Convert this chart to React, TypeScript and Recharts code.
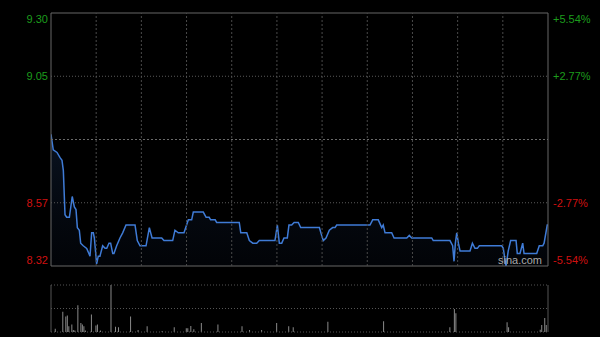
import React from "react";
import { ComposedChart, Area, Bar, XAxis, YAxis, ReferenceLine, ReferenceArea } from "recharts";

const prevClose = 8.81;
const maxPct = 5.54;
const pctTicks = [-5.54, -2.77, 2.77, 5.54];
const priceLabels = ["8.32", "8.57", "9.05", "9.30"];
const pctLabels = ["-5.54%", "-2.77%", "+2.77%", "+5.54%"];
const timeGrid = [30, 60, 90, 120, 150, 180, 210, 240, 270, 300];

// minutes since open (lunch break removed) and last price
const minutes = [
  0, 1.5, 4, 6, 7.3, 8.2, 9.3, 10.4, 12.2, 14.1, 15.5, 16.6, 17.5, 18.8, 19.7, 21.4, 23.7, 25.9, 27, 28.1,
  28.8, 30.3, 31.4, 32.5, 34.3, 35.9, 37, 38.5, 39.6, 41, 41.8, 43.6, 45.8, 47.6, 49.8, 55.8, 57.3, 59.1, 63.1, 65.3,
  67.1, 73.5, 75, 80.8, 82.3, 84.5, 88.3, 91.2, 93.4, 94.5, 101.1, 103, 105, 106, 109, 110, 125, 126, 130, 131.7,
  134, 136.6, 138.3, 148.7, 150.3, 151.6, 153.2, 154.7, 156.9, 158, 159.8, 161.4, 164.2, 165.8, 178.2, 179.7, 180.8, 182.6, 184.8, 187,
  188.6, 189.7, 211.8, 213.6, 217.3, 219.6, 220.6, 221.8, 226.2, 227.8, 236.2, 237.9, 239.5, 240.6, 252.8, 253.8, 264.9, 266.7, 267.6, 268.5,
  269.4, 270.5, 271.6, 278.2, 279.8, 281.5, 283.1, 284.4, 299.3, 300.3, 302.1, 303.6, 305.2, 308.8, 309.6, 311.4, 313.2, 314.1, 322.5, 324.2,
  326.5, 327.4, 329.5, 330,
];
const prices = [
  8.83, 8.77, 8.76, 8.74, 8.73, 8.69, 8.52, 8.51, 8.51, 8.59, 8.55, 8.54, 8.47, 8.46, 8.41, 8.4, 8.39, 8.36, 8.45, 8.45,
  8.43, 8.33, 8.36, 8.36, 8.4, 8.39, 8.39, 8.41, 8.41, 8.37, 8.37, 8.4, 8.43, 8.45, 8.48, 8.48, 8.42, 8.4, 8.4, 8.47,
  8.43, 8.43, 8.42, 8.42, 8.46, 8.45, 8.45, 8.5, 8.5, 8.53, 8.53, 8.51, 8.51, 8.5, 8.5, 8.49, 8.49, 8.45, 8.45, 8.42,
  8.41, 8.41, 8.42, 8.42, 8.48, 8.41, 8.41, 8.43, 8.43, 8.48, 8.48, 8.49, 8.49, 8.47, 8.47, 8.44, 8.42, 8.43, 8.46, 8.47,
  8.47, 8.48, 8.48, 8.5, 8.5, 8.47, 8.48, 8.45, 8.45, 8.43, 8.43, 8.44, 8.43, 8.43, 8.43, 8.42, 8.42, 8.4, 8.34, 8.41,
  8.45, 8.41, 8.38, 8.38, 8.41, 8.39, 8.39, 8.4, 8.4, 8.39, 8.32, 8.38, 8.42, 8.42, 8.37, 8.37, 8.41, 8.37, 8.37, 8.4,
  8.4, 8.41, 8.48, 8.48,
];

// volume, scaled so the panel top is 100
const volMinutes = [
  3, 8, 10, 11, 12, 14, 15, 16, 18, 20, 21, 22, 23, 27, 30, 31, 33, 40, 43, 45,
  53, 58, 64, 74, 82, 90, 91, 93, 95, 100, 111, 127, 132, 140, 150, 158, 161, 184, 221, 265,
  268, 269, 303, 304, 325, 326, 328, 329,
];
const volumes = [
  7, 43, 33, 35, 12, 16, 4, 3, 57, 19, 16, 12, 3, 37, 14, 16, 3, 100, 11, 10,
  33, 4, 12, 2, 10, 8, 8, 13, 6, 19, 16, 12, 4, 4, 19, 12, 10, 22, 23, 10,
  49, 40, 21, 10, 5, 15, 30, 15,
];

const lo = prevClose * (1 - maxPct / 100);
const hi = prevClose * (1 + maxPct / 100);
const tickVals = pctTicks.map((p) => prevClose * (1 + p / 100));

const priceRows = minutes.map((m, i) => ({ m, p: prices[i] }));
const volRows = volMinutes.map((m, i) => ({ m, v: volumes[i] }));

const font = "Arial, 'Liberation Sans', sans-serif";

function makeTick(side: "l" | "r") {
  return (props: any) => {
    const { x, y, payload } = props;
    const i = tickVals.findIndex((t) => Math.abs(t - payload.value) < 1e-6);
    if (i < 0) return <g />;
    const dy = i === 0 ? -6 : i === tickVals.length - 1 ? 6 : 0;
    const color = pctTicks[i] > 0 ? "#1c9c1c" : "#d01010";
    return (
      <text x={x} y={y + dy} dy="0.35em" textAnchor={side === "l" ? "end" : "start"} fill={color}
        fontSize={11} fontFamily={font}>
        {side === "l" ? priceLabels[i] : pctLabels[i]}
      </text>
    );
  };
}

export default function App() {
  return (
    <div style={{ position: "absolute", left: 0, top: 0, width: 600, height: 337, background: "#000", overflow: "hidden" }}>
      <ComposedChart width={600} height={270} data={priceRows} margin={{ top: 13, right: 0, left: 0, bottom: 4 }}>
        <defs>
          <linearGradient id="pfill" x1="0" y1="0" x2="0" y2="1">
            <stop offset="0%" stopColor="#1e3a66" stopOpacity={0.55} />
            <stop offset="100%" stopColor="#0c1830" stopOpacity={0.25} />
          </linearGradient>
        </defs>
        <XAxis dataKey="m" type="number" domain={[0, 330]} hide allowDataOverflow />
        <YAxis yAxisId="l" domain={[lo, hi]} ticks={tickVals} interval={0} width={51} allowDataOverflow
          axisLine={false} tickLine={false} tickSize={3} tickMargin={0} tick={makeTick("l")} />
        <YAxis yAxisId="r" orientation="right" domain={[lo, hi]} ticks={tickVals} interval={0} width={52} allowDataOverflow
          axisLine={false} tickLine={false} tickSize={5} tickMargin={0} tick={makeTick("r")} />
        {timeGrid.map((t) => (
          <ReferenceLine key={t} yAxisId="l" x={t} stroke="#4a4a4a" strokeDasharray="2 2" />
        ))}
        {[-2.77, 2.77].map((p) => (
          <ReferenceLine key={p} yAxisId="l" y={prevClose * (1 + p / 100)} stroke="#5a5a5a" strokeDasharray="1 2" />
        ))}
        <ReferenceLine yAxisId="l" y={prevClose} stroke="#6a6a6a" strokeDasharray="2 2" />
        <Area yAxisId="l" dataKey="p" type="linear" stroke="#3f7bd6" strokeWidth={1.5} fill="url(#pfill)"
          dot={false} activeDot={false} isAnimationActive={false} />
        <ReferenceArea yAxisId="l" x1={0} x2={330} y1={lo} y2={hi} fill="none" stroke="#666" strokeWidth={1} ifOverflow="visible" />
      </ComposedChart>
      <div style={{ position: "absolute", left: 498, top: 254, color: "#aaa", fontSize: 11, fontFamily: font }}>sina.com</div>
      <ComposedChart width={600} height={67} data={volRows} margin={{ top: 15, right: 52, left: 51, bottom: 5 }}>
        <XAxis dataKey="m" type="number" domain={[0, 330]} hide allowDataOverflow />
        <YAxis domain={[0, 100]} hide allowDataOverflow />
        {[100, 50, 0].map((v) => (
          <ReferenceLine key={v} y={v} stroke="#555" strokeDasharray="1 2" />
        ))}
        <ReferenceLine x={0} stroke="#555" />
        <ReferenceLine x={330} stroke="#555" />
        <Bar dataKey="v" fill="#8a8a8a" barSize={1} isAnimationActive={false} />
      </ComposedChart>
    </div>
  );
}
